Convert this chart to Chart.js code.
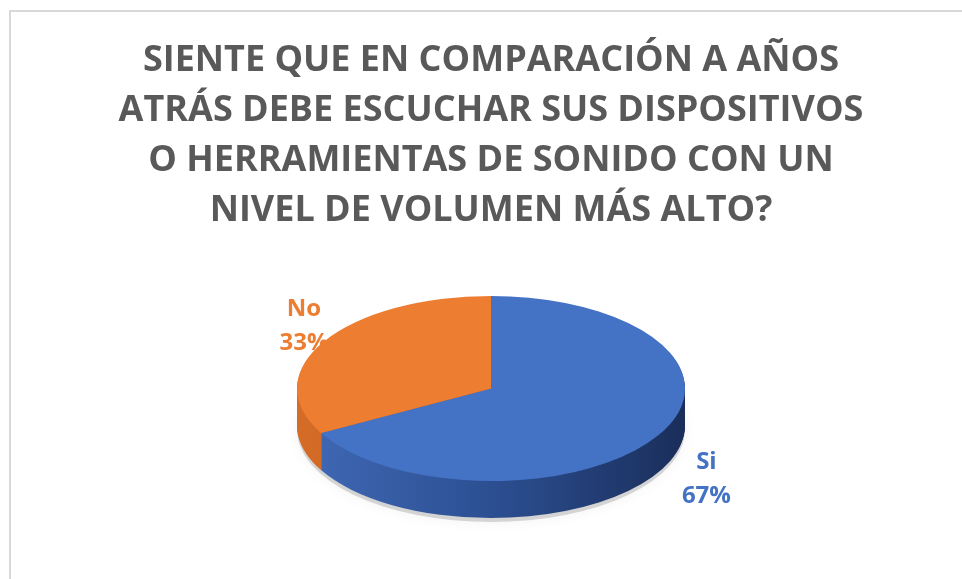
<!DOCTYPE html>
<html>
<head>
<meta charset="utf-8">
<script src="https://cdn.jsdelivr.net/npm/chart.js@4.4.0/dist/chart.umd.min.js"></script>
<style>
  html, body { margin: 0; padding: 0; background: #fff; overflow: hidden; }
  .frame { position: absolute; left: 9px; top: 10px; width: 1000px; height: 1000px; border: 2px solid #d9d9d9; box-sizing: border-box; }
  .wrap { position: absolute; left: 0; top: 0; width: 962px; height: 579px; }
</style>
</head>
<body>
<div class="frame"></div>
<div class="wrap"><canvas id="pie" width="962" height="579"></canvas></div>
<script>
// data
const titleLines = [
  'SIENTE QUE EN COMPARACIÓN A AÑOS',
  'ATRÁS DEBE ESCUCHAR SUS DISPOSITIVOS',
  'O HERRAMIENTAS DE SONIDO CON UN',
  'NIVEL DE VOLUMEN MÁS ALTO?'
];
const categories = ['Si', 'No'];
const shares = [67, 33];

// look
const sliceColors = ['#4472c4', '#ed7d31'];
const sideStops = [
  ['#4069b6', '#2c4f92', '#1a2e5a'],
  ['#d46c27', '#c2621f', '#b0581b']
];

// fake 3D: squash the pie and stack darker copies under it
const pie3d = {
  id: 'pie3d',
  beforeDatasetsDraw(chart, args, opts) {
    const ctx = chart.ctx;
    const arcs = chart.getDatasetMeta(0).data;
    const { x: cx, y: cy, outerRadius: r } = arcs[0];

    // soft shadow under the disc
    ctx.save();
    ctx.translate(cx, cy + opts.depth + 4);
    ctx.scale(1, opts.squash);
    ctx.beginPath();
    ctx.arc(0, 0, r, 0, Math.PI * 2);
    ctx.shadowColor = 'rgba(0,0,0,0.35)';
    ctx.shadowBlur = 14;
    ctx.fillStyle = 'rgba(0,0,0,0.15)';
    ctx.fill();
    ctx.restore();

    for (let d = opts.depth; d > 0; d--) {
      ctx.save();
      ctx.translate(cx, cy + d);
      ctx.scale(1, opts.squash);
      arcs.forEach((arc, i) => {
        const g = ctx.createLinearGradient(-r, 0, r, 0);
        const stops = sideStops[i];
        stops.forEach((c, k) => g.addColorStop(k / (stops.length - 1), c));
        ctx.beginPath();
        ctx.moveTo(0, 0);
        ctx.arc(0, 0, r, arc.startAngle, arc.endAngle);
        ctx.closePath();
        ctx.fillStyle = g;
        ctx.fill();
      });
      ctx.restore();
    }

    ctx.save();
    ctx.translate(cx, cy);
    ctx.scale(1, opts.squash);
    ctx.translate(-cx, -cy);
  },
  afterDatasetsDraw(chart, args, opts) {
    const ctx = chart.ctx;
    ctx.restore();

    const arcs = chart.getDatasetMeta(0).data;
    ctx.save();
    ctx.font = 'bold 24px "Open Sans"';
    ctx.textAlign = 'center';
    ctx.textBaseline = 'middle';
    arcs.forEach((arc, i) => {
      const mid = (arc.startAngle + arc.endAngle) / 2;
      const [kx, ky] = opts.labelReach[i];
      const x = arc.x + Math.cos(mid) * arc.outerRadius * kx;
      const y = arc.y + Math.sin(mid) * arc.outerRadius * opts.squash * ky;
      ctx.fillStyle = sliceColors[i];
      ctx.fillText(categories[i], x, y - 17);
      ctx.fillText(shares[i] + '%', x, y + 17);
    });
    ctx.restore();
  }
};

new Chart(document.getElementById('pie').getContext('2d'), {
  type: 'pie',
  data: {
    labels: categories,
    datasets: [{
      data: shares,
      backgroundColor: sliceColors,
      borderWidth: 0,
      clip: false
    }]
  },
  options: {
    responsive: false,
    animation: false,
    radius: 194,
    layout: { padding: { left: 20, right: 0, top: 0, bottom: 46 } },
    plugins: {
      legend: { display: false },
      tooltip: { enabled: false },
      title: {
        display: true,
        text: titleLines,
        color: '#595959',
        font: { family: '"Open Sans"', size: 36, weight: 'bold', lineHeight: 50 / 36 },
        padding: { top: 36, bottom: 8 }
      },
      pie3d: {
        depth: 37,
        squash: 0.477,
        labelReach: [[1.29, 1.92], [1.12, 1.33]]
      }
    }
  },
  plugins: [pie3d]
});
</script>
</body>
</html>
